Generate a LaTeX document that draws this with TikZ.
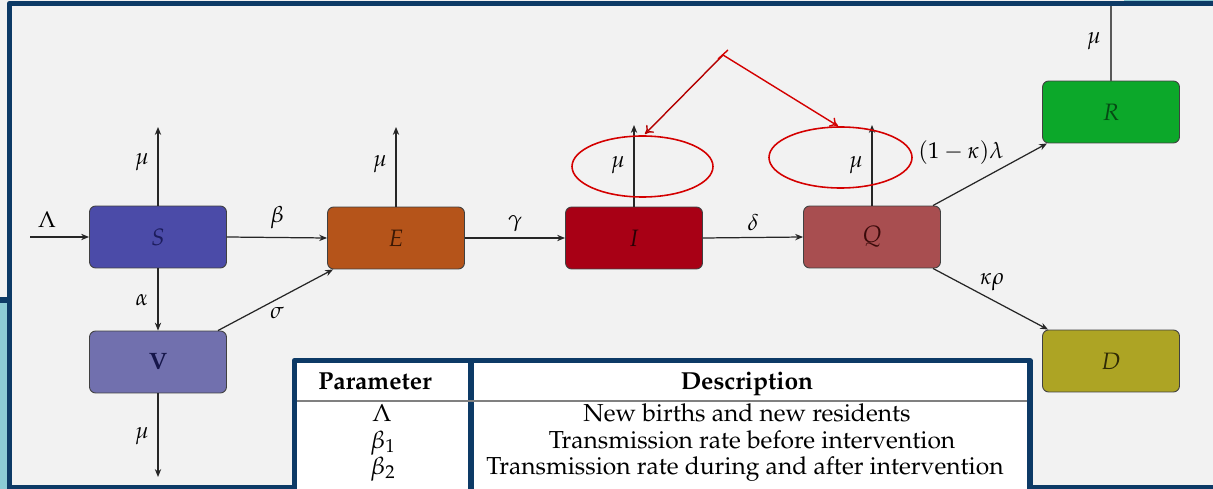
\documentclass[tikz,border=0pt]{standalone}
\usepackage[T1]{fontenc}
\usepackage{mathpazo}
\usetikzlibrary{arrows.meta}
\definecolor{bg}{HTML}{F2F2F2}
\definecolor{navy}{HTML}{0D3A66}
\definecolor{teal}{HTML}{8CCBD5}
\definecolor{sfill}{HTML}{4B4BA8}
\definecolor{vfill}{HTML}{7170AE}
\definecolor{efill}{HTML}{B5541A}
\definecolor{ifill}{HTML}{A80015}
\definecolor{qfill}{HTML}{A84E50}
\definecolor{rfill}{HTML}{0CA82A}
\definecolor{dfill}{HTML}{ADA424}
\definecolor{annot}{HTML}{D40000}
\begin{document}
\begin{tikzpicture}[x=0.02cm,y=-0.02cm,
  comp/.style={draw=black!75, line width=0.5pt, rounded corners=3.5pt,
    minimum width=2.74cm, minimum height=1.24cm, inner sep=0pt,
    font=\fontsize{13.5}{15}\selectfont},
  lab/.style={inner sep=0pt, font=\fontsize{13}{15}\selectfont},
  flow/.style={draw=black!85, line width=0.7pt, -{Stealth[length=4.5pt,width=3.6pt]}},
  ring/.style={draw=annot, line width=0.9pt},
  pointer/.style={line width=0.8pt, -{To[length=4.5pt,width=6pt]}},
  border/.style={draw=navy},
  tabtxt/.style={inner sep=0pt, anchor=base, font=\fontsize{14}{16}\selectfont}]
\useasboundingbox (0,0) rectangle (1213,489);
\fill[bg] (0,0) rectangle (1213,489);

% compartments
\node[comp, fill=sfill] (S) at (158,237) {\color[HTML]{1C1C5C}$S$};
\node[comp, fill=vfill] (V) at (158,362) {\color[HTML]{16164A}\textbf{V}};
\node[comp, fill=efill] (E) at (396,238) {\color[HTML]{3A1805}$E$};
\node[comp, fill=ifill] (I) at (634,238) {\color[HTML]{2A0005}$I$};
\node[comp, fill=qfill] (Q) at (872,237) {\color[HTML]{3A0A0A}$Q$};
\node[comp, fill=rfill] (R) at (1111,112) {\color[HTML]{064A14}$R$};
\node[comp, fill=dfill] (D) at (1111,361) {\color[HTML]{2F2A05}$D$};

% free ends of the inflow and outflows
\coordinate (in) at (30,237);
\coordinate (sout) at (158,127);
\coordinate (eout) at (396,127);
\coordinate (iout) at (634,125);
\coordinate (qout) at (872,125);
\coordinate (rout) at (1111,2);
\coordinate (vout) at (158,477);

% transitions
\draw[flow] (in) -- (S.west);
\draw[flow] (S.east) -- (E.west);
\draw[flow] (E.east) -- (I.west);
\draw[flow] (I.east) -- (Q.west);
\draw[flow] (S.south) -- (V.north);
\draw[flow] ([xshift=-0.18cm]V.north east) -- ([xshift=0.12cm]E.south west);
\draw[flow] ([xshift=-0.16cm]Q.north east) -- ([xshift=0.1cm]R.south west);
\draw[flow] ([xshift=-0.16cm]Q.south east) -- ([xshift=0.12cm]D.north west);
\draw[flow] (S.north) -- (sout);
\draw[flow] (E.north) -- (eout);
\draw[flow] (I.north) -- (iout);
\draw[flow] (Q.north) -- (qout);
\draw[flow] (V.south) -- (vout);
\draw[draw=black!65, line width=0.8pt] (R.north) -- (rout);

% rates
\node[lab] (lLam) at (47,220) {$\Lambda$};
\node[lab] (lbeta) at (277,218) {$\beta$};
\node[lab] (lgam) at (515,224) {$\gamma$};
\node[lab] (ldel) at (753,222) {$\delta$};
\node[lab] (lalp) at (142,300) {$\alpha$};
\node[lab] (lsig) at (277,313) {$\sigma$};
\node[lab] (lmuS) at (142,162) {$\mu$};
\node[lab] (lmuE) at (380,164) {$\mu$};
\node[lab] (lmuI) at (618,165) {$\mu$};
\node[lab] (lmuQ) at (856,165) {$\mu$};
\node[lab] (lmuR) at (1094,41) {$\mu$};
\node[lab] (lmuV) at (142,436) {$\mu$};
\node[lab] (lkl) at (961,153) {$(1-\kappa)\lambda$};
\node[lab] (lkr) at (992,282) {$\kappa\rho$};

% highlighted death terms
\draw[ring] (642.5,166.5) ellipse [x radius=70.5, y radius=30.5];
\draw[ring] (840.5,157.5) ellipse [x radius=71.5, y radius=30.5];
\coordinate (src) at (723,55);
\coordinate (tipI) at (645,134);
\coordinate (tipQ) at (838,126);
\draw[pointer, draw=annot!85!black] (src) -- (tipI);
\draw[pointer, draw=annot] (src) -- (tipQ);
\draw[annot, line width=0.8pt] (718,59) -- (728,50);

% slide frame
\fill[teal] (0,302) rectangle (8,489);
\fill[teal] (1124,0) rectangle (1213,1.5);
\draw[border, line width=3pt] (0,300) -- (12,300);
\draw[border, line width=3pt, line cap=round, line join=round]
  (9.5,489) -- (9.5,3.5) -- (1213,3.5);
\draw[border, line width=2.4pt] (7,487.5) -- (1213,487.5);

% parameter table
\fill[white] (294,360) rectangle (1030,489);
\draw[border, line width=3pt, line join=round] (294.5,489) -- (294.5,360.5) -- (1030,360.5) -- (1030,489);
\draw[border, line width=3pt] (471,360) -- (471,489);
\draw[black!50, line width=0.9pt] (297,401) -- (1027,401);
\node[tabtxt] (hpar) at (375,389) {\textbf{Parameter}};
\node[tabtxt] (hdes) at (747,389) {\textbf{Description}};
\node[tabtxt] (p1) at (382,421) {$\Lambda$};
\node[tabtxt] (p2) at (383,448) {$\beta_1$};
\node[tabtxt] (p3) at (383,474) {$\beta_2$};
\node[tabtxt] (d1) at (747,421) {New births and new residents};
\node[tabtxt] (d2) at (752,448) {Transmission rate before intervention};
\node[tabtxt] (d3) at (745,474) {Transmission rate during and after intervention};
\end{tikzpicture}
\end{document}
